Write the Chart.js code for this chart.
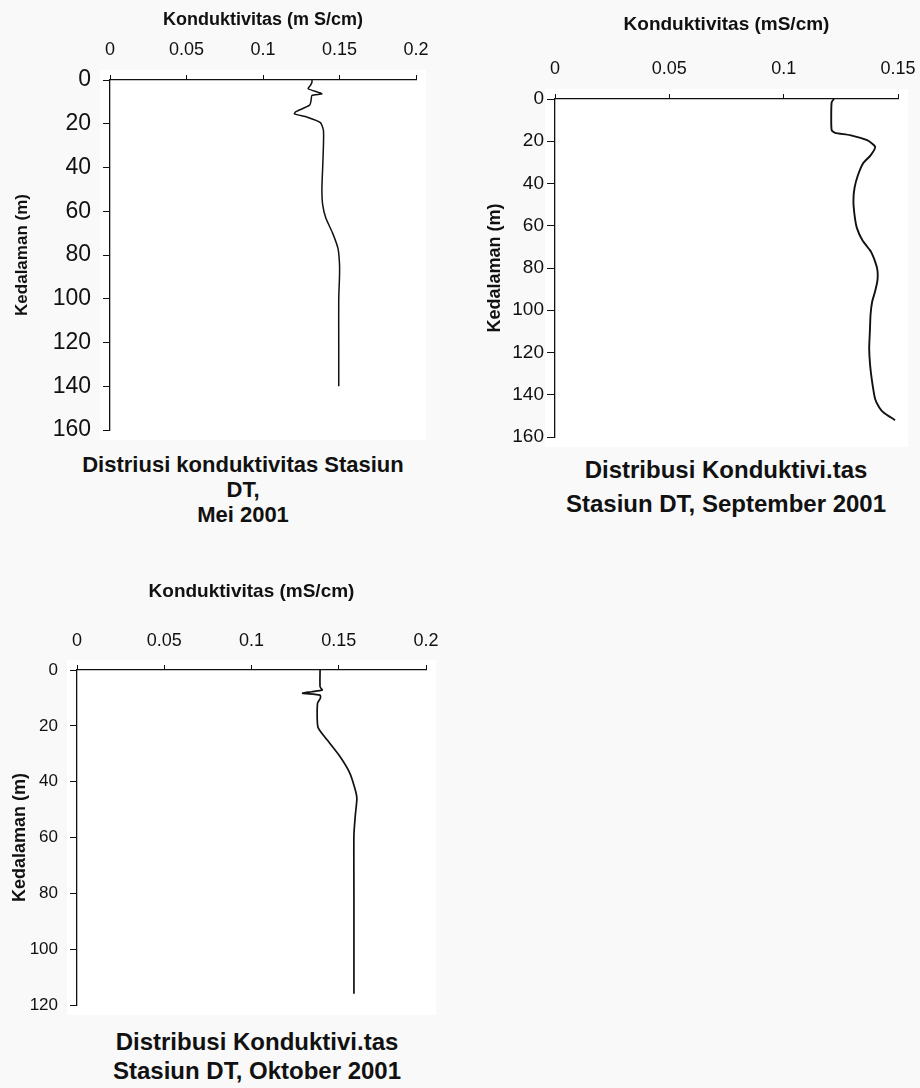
<!DOCTYPE html>
<html>
<head>
<meta charset="utf-8">
<script src="https://cdn.jsdelivr.net/npm/chart.js@4/dist/chart.umd.min.js"></script>
<style>
  body { margin: 0; background: #f9f9f9; width: 920px; height: 1088px; position: relative; overflow: hidden; }
  .box { position: absolute; }
  .cap { position: absolute; width: 420px; text-align: center; font-family: "Liberation Sans", Arial, sans-serif; font-weight: bold; color: #111; }
</style>
</head>
<body>
<div class="box" style="left:0;top:0"><canvas id="c1" width="440" height="440"></canvas></div>
<div class="box" style="left:440px;top:0"><canvas id="c2" width="480" height="450"></canvas></div>
<div class="box" style="left:0;top:560px"><canvas id="c3" width="450" height="460"></canvas></div>

<div class="cap" style="left:33px;top:452px;font-size:22px;line-height:25px">Distriusi konduktivitas Stasiun<br>DT,<br>Mei 2001</div>
<div class="cap" style="left:516px;top:453px;font-size:24px;line-height:34px">Distribusi Konduktivi.tas<br>Stasiun DT, September 2001</div>
<div class="cap" style="left:47px;top:1027px;font-size:24px;line-height:29px">Distribusi Konduktivi.tas<br>Stasiun DT, Oktober 2001</div>

<script>
// Mei 2001
const meiDepth = [0, 1, 2.5, 4, 6.3, 7, 9, 11.5, 14.5, 15.5, 17, 19.5, 23, 30, 40, 50, 57, 63, 70, 77, 84, 90, 100, 120, 140];
const meiCond  = [0.132, 0.132, 0.131, 0.1295, 0.1385, 0.132, 0.1315, 0.1305, 0.1215, 0.1205, 0.129, 0.1375, 0.1395, 0.1395, 0.139, 0.1385, 0.139, 0.141, 0.1455, 0.149, 0.150, 0.150, 0.1495, 0.1495, 0.1495];

// September 2001
const sepDepth = [0, 1.5, 8, 14.8, 16, 17.1, 19.5, 22.6, 26.7, 30.5, 36, 42, 48, 55, 61, 67, 72, 77, 81, 86, 91, 96, 102, 110, 118, 126, 134, 142, 146, 148.5, 152];
const sepCond  = [0.122, 0.121, 0.1208, 0.121, 0.1225, 0.129, 0.1365, 0.140, 0.138, 0.1347, 0.1325, 0.131, 0.1305, 0.131, 0.132, 0.1345, 0.138, 0.140, 0.141, 0.141, 0.140, 0.1387, 0.138, 0.1377, 0.1374, 0.1378, 0.1387, 0.140, 0.1418, 0.1438, 0.1487];

// Oktober 2001
const oktDepth = [0, 6, 7.2, 7.8, 8.3, 9, 10, 12, 20.5, 25, 31, 37, 43, 46, 52, 59, 80, 100, 116];
const oktCond  = [0.1393, 0.1393, 0.1405, 0.1345, 0.1293, 0.1393, 0.1395, 0.1378, 0.1381, 0.1433, 0.1507, 0.1564, 0.1595, 0.1604, 0.1595, 0.1587, 0.1587, 0.1587, 0.1587];

const xTitle1 = "Konduktivitas (m S/cm)";
const xTitle = "Konduktivitas (mS/cm)";
const yTitle = "Kedalaman (m)";

const fam = '"Liberation Sans", Arial, sans-serif';
Chart.defaults.color = "#111";

const whiteArea = {
    id: "whiteArea",
    beforeDraw(chart) {
        const a = chart.chartArea, ctx = chart.ctx;
        ctx.save();
        ctx.fillStyle = "#fff";
        ctx.fillRect(a.left - 10, a.top - 10, a.right - a.left + 20, a.bottom - a.top + 20);
        ctx.restore();
    }
};

function makeChart(id, depth, cond, o) {
    const pts = depth.map((d, i) => ({ x: cond[i], y: d }));
    return new Chart(document.getElementById(id), {
        type: "scatter",
        data: { datasets: [{ data: pts, showLine: true, borderColor: "#111", borderWidth: o.lw, pointRadius: 0, tension: 0.2 }] },
        plugins: [whiteArea],
        options: {
            responsive: false,
            animation: false,
            devicePixelRatio: 1,
            layout: { padding: { left: 0, top: 0, right: o.padR, bottom: o.padB } },
            plugins: { legend: { display: false }, tooltip: { enabled: false } },
            scales: {
                x: {
                    type: "linear", position: "top", min: 0, max: o.xMax,
                    afterFit: s => { s.height = o.xH; s.paddingLeft = 0; s.paddingRight = 0; },
                    border: { color: "#111", width: 1.3 },
                    grid: { drawOnChartArea: false, color: "#111", tickLength: 5 },
                    ticks: { stepSize: 0.05, padding: o.xPad, font: { family: fam, size: o.xFont },
                             callback: v => String(Math.round(v * 100) / 100) },
                    title: { display: true, text: o.xText, font: { family: fam, size: o.titleFont, weight: "bold" },
                             padding: { top: o.xTitlePad, bottom: 0 } }
                },
                y: {
                    type: "linear", reverse: true, min: 0, max: o.yMax,
                    afterFit: s => { s.width = o.yW; s.paddingTop = 0; s.paddingBottom = 0; },
                    border: { color: "#111", width: 1.3 },
                    grid: { drawOnChartArea: false, color: "#111", tickLength: o.yTick },
                    ticks: { stepSize: 20, padding: o.yPad, font: { family: fam, size: o.yFont } },
                    title: { display: true, text: yTitle, font: { family: fam, size: o.yTitleFont, weight: "bold" },
                             padding: { top: o.yTitlePad, bottom: 0 } }
                }
            }
        }
    });
}

makeChart("c1", meiDepth, meiCond, {
    xMax: 0.2, yMax: 160, padR: 24, padB: 10, xH: 80, yW: 110, lw: 1.5,
    xFont: 18, xPad: 14, titleFont: 18, xTitlePad: 9, xText: xTitle1,
    yFont: 23, yTick: 7, yPad: 12, yTitleFont: 17, yTitlePad: 12
});

makeChart("c2", sepDepth, sepCond, {
    xMax: 0.15, yMax: 160, padR: 22, padB: 13, xH: 99, yW: 115, lw: 1.9,
    xFont: 18, xPad: 14, titleFont: 19, xTitlePad: 13, xText: xTitle,
    yFont: 19, yTick: 8, yPad: 3, yTitleFont: 18, yTitlePad: 44
});

makeChart("c3", oktDepth, oktCond, {
    xMax: 0.2, yMax: 120, padR: 24, padB: 15, xH: 110, yW: 77, lw: 1.7,
    xFont: 18, xPad: 13, titleFont: 19, xTitlePad: 20, xText: xTitle,
    yFont: 17, yTick: 7, yPad: 12, yTitleFont: 18, yTitlePad: 9
});
</script>
</body>
</html>
